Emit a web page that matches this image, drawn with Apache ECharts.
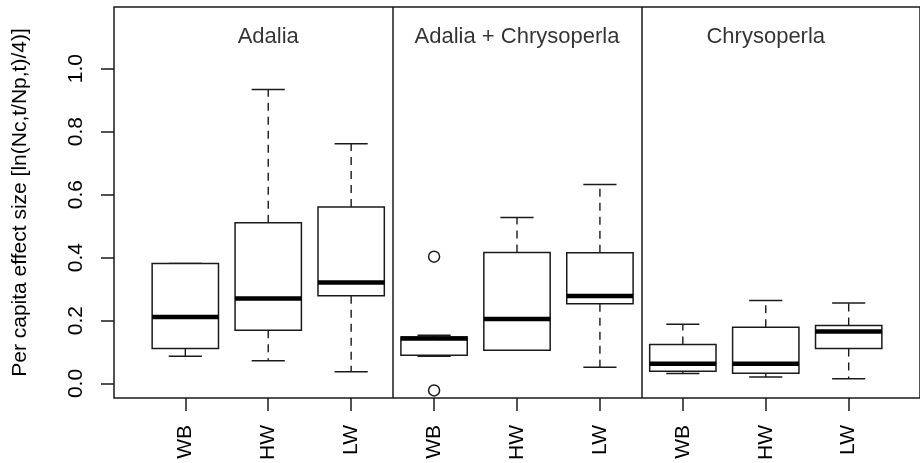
<!DOCTYPE html>
<html>
<head>
<meta charset="utf-8">
<script src="https://cdn.jsdelivr.net/npm/echarts@6/dist/echarts.min.js"></script>
<style>
  html, body { margin: 0; padding: 0; background: #fff; }
  #main { width: 920px; height: 463px; }
</style>
</head>
<body>
<div id="main"></div>
<script>
// per capita effect size, one box per treatment
var categories = ['WB', 'HW', 'LW', 'WB', 'HW', 'LW', 'WB', 'HW', 'LW'];
var lowWhisker = [0.087, 0.072, 0.037, 0.087, 0.106, 0.052, 0.032, 0.021, 0.015];
var q1 = [0.111, 0.169, 0.279, 0.090, 0.106, 0.253, 0.039, 0.033, 0.111];
var medians = [0.211, 0.270, 0.321, 0.143, 0.205, 0.278, 0.063, 0.063, 0.165];
var q3 = [0.381, 0.511, 0.561, 0.148, 0.416, 0.415, 0.124, 0.179, 0.184];
var highWhisker = [0.381, 0.934, 0.762, 0.153, 0.527, 0.632, 0.188, 0.264, 0.256];
var outliers = [[4, 0.403], [4, -0.022]];

var panelNames = ['Adalia', 'Adalia + Chrysoperla', 'Chrysoperla'];
var panelCenters = [2, 5, 8];
var panelLabelY = 1.1;
var panelBreaks = [3.5, 6.5];

var yTicks = [0, 0.2, 0.4, 0.6, 0.8, 1.0];
var xTicks = [1, 2, 3, 4, 5, 6, 7, 8, 9];

var FONT = '"Liberation Sans", Arial, Helvetica, sans-serif';
var INK = '#1a1a1a';

var boxData = categories.map(function (c, i) {
  return [i + 1, lowWhisker[i], q1[i], medians[i], q3[i], highWhisker[i]];
});

function renderBox(params, api) {
  var x = api.value(0);
  var pLow = api.coord([x, api.value(1)]);
  var pQ1 = api.coord([x, api.value(2)]);
  var pMed = api.coord([x, api.value(3)]);
  var pQ3 = api.coord([x, api.value(4)]);
  var pHigh = api.coord([x, api.value(5)]);
  var half = api.size([0.8, 0])[0] / 2;
  var cap = half / 2;
  var cx = pMed[0];
  var dashed = { stroke: INK, lineWidth: 1.4, lineDash: [8, 6] };
  var solid = { stroke: INK, lineWidth: 1.5 };
  return {
    type: 'group',
    children: [
      { type: 'line', shape: { x1: cx, y1: pQ3[1], x2: cx, y2: pHigh[1] }, style: dashed },
      { type: 'line', shape: { x1: cx, y1: pQ1[1], x2: cx, y2: pLow[1] }, style: dashed },
      { type: 'line', shape: { x1: cx - cap, y1: pHigh[1], x2: cx + cap, y2: pHigh[1] }, style: solid },
      { type: 'line', shape: { x1: cx - cap, y1: pLow[1], x2: cx + cap, y2: pLow[1] }, style: solid },
      {
        type: 'rect',
        shape: { x: cx - half, y: pQ3[1], width: half * 2, height: pQ1[1] - pQ3[1] },
        style: { fill: '#fff', stroke: INK, lineWidth: 1.5 }
      },
      { type: 'line', shape: { x1: cx - half, y1: pMed[1], x2: cx + half, y2: pMed[1] }, style: { stroke: '#000', lineWidth: 4.5 } }
    ]
  };
}

var chart = echarts.init(document.getElementById('main'), null, { renderer: 'canvas' });

var option = {
  backgroundColor: '#fff',
  animation: false,
  textStyle: { fontFamily: FONT, color: '#000' },
  grid: {
    left: 114,
    top: 7,
    width: 816,
    height: 391,
    show: true,
    borderColor: INK,
    borderWidth: 1.5,
    backgroundColor: 'transparent'
  },
  xAxis: {
    type: 'value',
    min: 0.14,
    max: 9.86,
    splitLine: { show: false },
    axisLine: { show: false, onZero: false },
    axisTick: {
      show: true,
      length: 13,
      customValues: xTicks,
      lineStyle: { color: INK, width: 1.5 }
    },
    axisLabel: {
      customValues: xTicks,
      rotate: 90,
      margin: 27,
      fontSize: 21,
      fontFamily: FONT,
      color: '#000',
      formatter: function (v) {
        return categories[Math.round(v) - 1];
      }
    }
  },
  yAxis: {
    type: 'value',
    min: -0.046,
    max: 1.196,
    name: 'Per capita effect size [ln(Nc,t/Np,t)/4)]',
    nameLocation: 'middle',
    nameRotate: 90,
    nameGap: 83,
    nameTextStyle: { fontSize: 21, fontFamily: FONT, color: '#000' },
    splitLine: { show: false },
    axisLine: { show: false, onZero: false },
    axisTick: {
      show: true,
      length: 13,
      customValues: yTicks,
      lineStyle: { color: INK, width: 1.5 }
    },
    axisLabel: {
      customValues: yTicks,
      rotate: 90,
      margin: 27,
      fontSize: 21,
      fontFamily: FONT,
      color: '#000',
      formatter: function (v) {
        return v.toFixed(1);
      }
    }
  },
  series: [{
    type: 'custom',
    renderItem: renderBox,
    dimensions: ['x', 'low', 'q1', 'median', 'q3', 'high'],
    encode: { x: 0, y: [1, 2, 3, 4, 5] },
    data: boxData,
    z: 2
  }, {
    type: 'scatter',
    symbol: 'circle',
    symbolSize: 11,
    itemStyle: { color: '#fff', borderColor: INK, borderWidth: 1.5, opacity: 1 },
    data: outliers,
    z: 3,
    markLine: {
      silent: true,
      symbol: ['none', 'none'],
      label: { show: false },
      lineStyle: { color: INK, width: 1.5, type: 'solid' },
      data: panelBreaks.map(function (b) { return { xAxis: b }; })
    }
  }, {
    type: 'scatter',
    symbolSize: 1,
    itemStyle: { color: 'transparent' },
    label: {
      show: true,
      position: 'inside',
      fontSize: 22,
      fontFamily: FONT,
      color: '#000',
      formatter: function (p) { return p.name; }
    },
    data: panelNames.map(function (n, i) {
      return { name: n, value: [panelCenters[i], panelLabelY] };
    }),
    z: 4
  }]
};
chart.setOption(option);
</script>
</body>
</html>
